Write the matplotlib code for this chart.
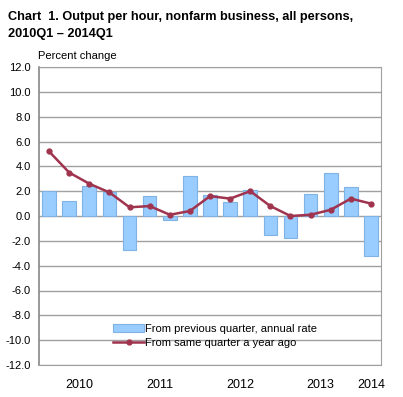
import matplotlib.pyplot as plt
import numpy as np

plt.rcParams['font.family'] = ['Liberation Sans', 'DejaVu Sans']

# quarterly data 2010Q1 - 2014Q1
quarters = ['2010Q1', '2010Q2', '2010Q3', '2010Q4',
            '2011Q1', '2011Q2', '2011Q3', '2011Q4',
            '2012Q1', '2012Q2', '2012Q3', '2012Q4',
            '2013Q1', '2013Q2', '2013Q3', '2013Q4',
            '2014Q1']
prev_quarter = [2.0, 1.2, 2.4, 1.9, -2.7, 1.6, -0.3, 3.2, 1.7, 1.1, 2.1, -1.5,
                -1.8, 1.8, 3.5, 2.3, -3.2]
year_ago = [5.2, 3.5, 2.6, 1.9, 0.7, 0.8, 0.1, 0.4, 1.6, 1.4, 2.0, 0.8,
            0.0, 0.1, 0.5, 1.4, 1.0]
years = ['2010', '2011', '2012', '2013', '2014']
year_pos = [1.5, 5.5, 9.5, 13.5, 16]

x = np.arange(len(quarters))

fig = plt.figure(figsize=(4.03, 3.97), dpi=100)
ax = fig.add_axes([39/403, 32/397, 342/403, 298/397])

bars = ax.bar(x, prev_quarter, width=0.68, color='#99ccff', edgecolor='#7fb2e5',
              linewidth=0.8, label='From previous quarter, annual rate', zorder=2)
line, = ax.plot(x, year_ago, color='#a0344e', linewidth=1.8, marker='o', markersize=3.5,
                label='From same quarter a year ago', zorder=3)

ax.set_xlim(-0.5, len(quarters) - 0.5)
ax.set_ylim(-12, 12)
ticks = np.arange(-12, 12.1, 2)
ax.set_yticks(ticks)
ax.set_yticklabels(['%.1f' % t for t in ticks], fontsize=8)
ax.yaxis.grid(True, color='#a0a0a0', linewidth=1)
ax.set_axisbelow(True)
ax.tick_params(axis='y', length=0, pad=6)
ax.set_xticks(year_pos)
ax.set_xticklabels(years, fontsize=9)
ax.tick_params(axis='x', length=0, pad=10)

for s in ['left', 'right', 'top', 'bottom']:
    ax.spines[s].set_color('#a0a0a0')
ax.spines['left'].set_color('#888888')
ax.spines['left'].set_linewidth(1.2)

fig.text(8/403, 1 - 17/397, 'Chart  1. Output per hour, nonfarm business, all persons,',
         fontsize=9.2, fontweight='bold', va='center')
fig.text(8/403, 1 - 34/397, '2010Q1 \u2013 2014Q1',
         fontsize=9.2, fontweight='bold', va='center')
fig.text(38/403, 1 - 56/397, 'Percent change', fontsize=8, va='center')

ax.legend(handles=[bars, line], loc='lower left', bbox_to_anchor=(0.2, 0.04),
          frameon=False, fontsize=8, handlelength=2.8, handletextpad=0.1,
          labelspacing=0.35, borderpad=0)

fig.savefig('out.png', dpi=100)
